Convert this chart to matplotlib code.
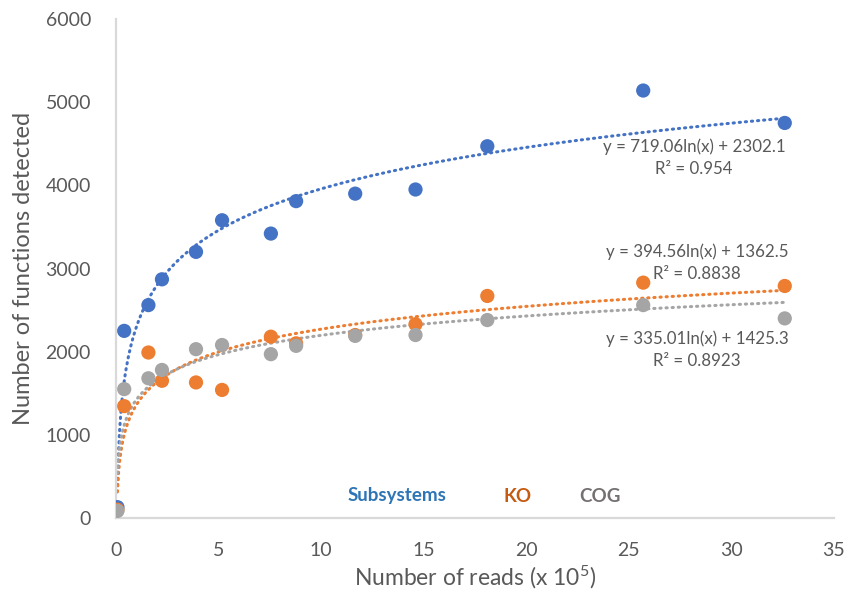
import numpy as np
import matplotlib
matplotlib.use("Agg")
import matplotlib.pyplot as plt

plt.rcParams['font.family'] = ['Lato', 'DejaVu Sans']
plt.rcParams['mathtext.default'] = 'regular'

# Data (x in units of 10^5 reads)
reads = [0.07, 0.40, 1.58, 2.24, 3.90, 5.17, 7.55, 8.78, 11.66, 14.60, 18.10, 25.70, 32.60]
subsystems = [130, 2250, 2560, 2870, 3200, 3580, 3420, 3810, 3900, 3950, 4470, 5140, 4750]
ko = [100, 1345, 1990, 1650, 1630, 1540, 2180, 2100, 2200, 2330, 2670, 2830, 2790]
cog = [85, 1550, 1680, 1780, 2030, 2080, 1970, 2070, 2190, 2200, 2380, 2560, 2400]

series_names = ['Subsystems', 'KO', 'COG']
# logarithmic trendline coefficients: y = a*ln(x) + b
fit_a = [719.06, 394.56, 335.01]
fit_b = [2302.1, 1362.5, 1425.3]
fit_r2 = ['0.954', '0.8838', '0.8923']

marker_colors = ['#4472C4', '#ED7D31', '#A5A5A5']
label_colors = ['#2E75B6', '#C55A11', '#767171']

fig = plt.figure(figsize=(8.48, 5.97), dpi=100)
ax = fig.add_axes([116/848, 1-518/597, (834-116)/848, (518-19)/597])

ys = [subsystems, ko, cog]
xs = np.linspace(min(reads), max(reads), 600)
for i in range(3):
    ax.plot(xs, fit_a[i]*np.log(xs) + fit_b[i], color=marker_colors[i], lw=2.2,
            linestyle=(0, (0.4, 1.6)), dash_capstyle='round', zorder=2)
for i in range(3):
    ax.scatter(reads, ys[i], s=105, color=marker_colors[i], edgecolors='none', zorder=3+i)

ax.set_xlim(0, 35)
ax.set_ylim(0, 6000)
ax.set_xticks(np.arange(0, 36, 5))
ax.set_yticks(np.arange(0, 6001, 1000))
for s in ['top', 'right']:
    ax.spines[s].set_visible(False)
for s in ['left', 'bottom']:
    ax.spines[s].set_color('#D9D9D9')
    ax.spines[s].set_linewidth(1.6)
ax.tick_params(length=0, labelsize=14, colors='#595959')
ax.tick_params(axis='x', pad=17)
ax.tick_params(axis='y', pad=18)

ax.set_xlabel('Number of reads (x 10$^5$)', fontsize=16.5, color='#595959', labelpad=4)
ax.set_ylabel('Number of functions detected', fontsize=17, color='#595959', labelpad=8)

# equations
eq_pos = [(694, 147), (697, 252), (697, 339)]
for i in range(3):
    px, py = eq_pos[i]
    fx = (px - 116) / (834 - 116)
    fy = (518 - py) / (518 - 19)
    ax.text(fx, fy, f'y = {fit_a[i]:.2f}ln(x) + {fit_b[i]:.1f}', transform=ax.transAxes,
            ha='center', va='center', fontsize=12.2, color='#595959')
    fy2 = (518 - (py + 22)) / (518 - 19)
    ax.text(fx, fy2, f'R² = {fit_r2[i]}', transform=ax.transAxes,
            ha='center', va='center', fontsize=12.2, color='#595959')

# legend labels
leg_pos = [397, 518, 600]
for i in range(3):
    fx = (leg_pos[i] - 116) / (834 - 116)
    fy = (518 - 496) / (518 - 19)
    ax.text(fx, fy, series_names[i], transform=ax.transAxes, ha='center', va='center',
            fontsize=13.5, fontweight='bold', color=label_colors[i])

fig.savefig('out.png', dpi=100)
